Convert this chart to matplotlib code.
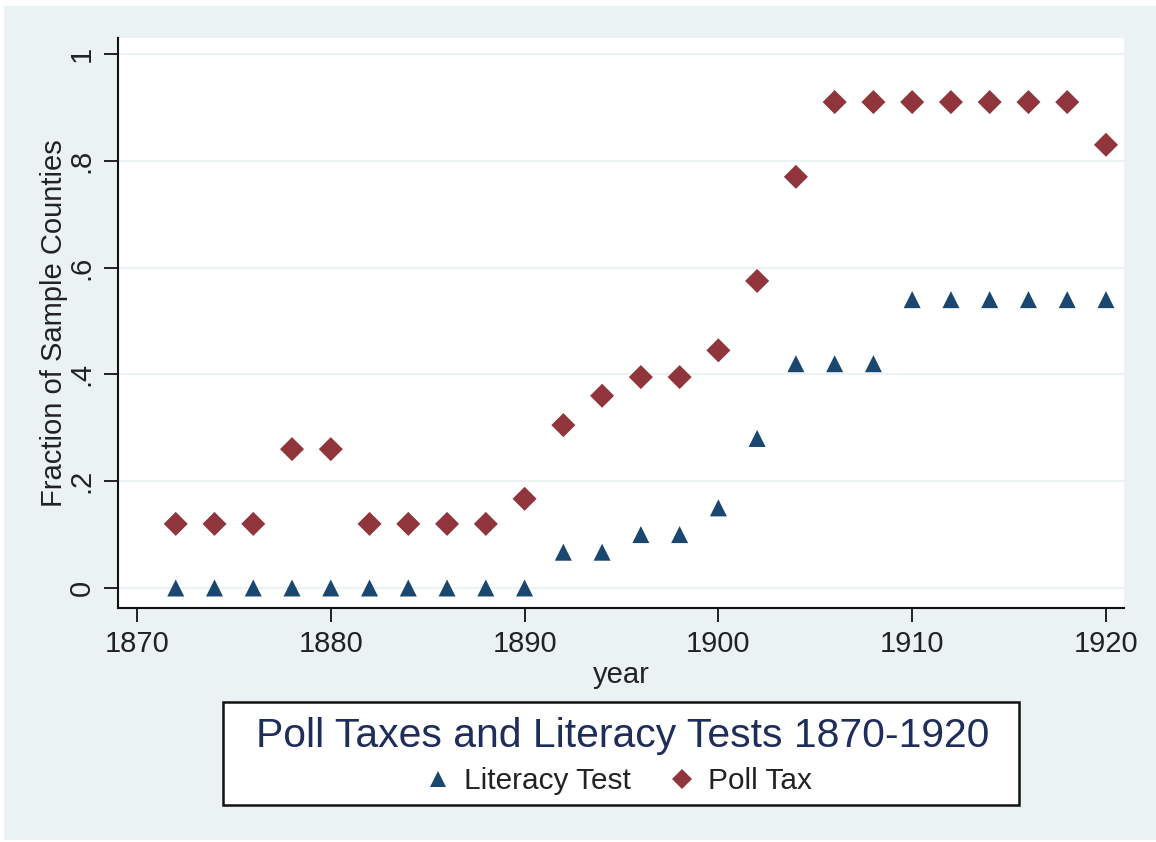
import matplotlib
matplotlib.use("Agg")
import matplotlib.pyplot as plt
from matplotlib.patches import Rectangle
from matplotlib.lines import Line2D

plt.rcParams['font.family'] = ['Liberation Sans', 'DejaVu Sans']

# data
years = [1872, 1874, 1876, 1878, 1880, 1882, 1884, 1886, 1888, 1890,
         1892, 1894, 1896, 1898, 1900, 1902, 1904, 1906, 1908, 1910,
         1912, 1914, 1916, 1918, 1920]
literacy_test = [0, 0, 0, 0, 0, 0, 0, 0, 0, 0,
                 0.067, 0.067, 0.1, 0.1, 0.15, 0.28, 0.42, 0.42, 0.42, 0.54,
                 0.54, 0.54, 0.54, 0.54, 0.54]
poll_tax = [0.12, 0.12, 0.12, 0.26, 0.26, 0.12, 0.12, 0.12, 0.12, 0.167,
            0.305, 0.36, 0.395, 0.395, 0.445, 0.575, 0.77, 0.91, 0.91, 0.91,
            0.91, 0.91, 0.91, 0.91, 0.83]
xticks = [1870, 1880, 1890, 1900, 1910, 1920]
yticks = [0, 0.2, 0.4, 0.6, 0.8, 1.0]
ytick_labels = ['0', '.2', '.4', '.6', '.8', '1']

W, H = 1156, 842
bg = '#EAF2F3'
navy = '#1A476F'
maroon = '#90353B'
txt = '#222222'

fig = plt.figure(figsize=(W / 100, H / 100), dpi=100, facecolor='white')
# outer light background panel
fig.patches.append(Rectangle((4 / W, 2 / H), (W - 4) / W, (H - 8) / H,
                             transform=fig.transFigure, facecolor=bg,
                             edgecolor='none', zorder=-5))

ax = fig.add_axes([118 / W, (H - 608) / H, (1124 - 118) / W, (608 - 38) / H])
ax.set_zorder(1)
ax.set_facecolor('white')

ax.scatter(years, literacy_test, marker='^', s=150, color=navy,
           edgecolors='none', zorder=3, label='Literacy Test')
ax.scatter(years, poll_tax, marker='D', s=150, color=maroon,
           edgecolors='none', zorder=3, label='Poll Tax')

ax.set_xlim(1869.02, 1920.93)
ax.set_ylim(-0.0375, 1.030)
ax.set_xticks(xticks)
ax.set_yticks(yticks)
ax.set_yticklabels(ytick_labels, rotation=90, va='center')
ax.grid(axis='y', color=bg, linewidth=1.5, zorder=1)
ax.set_axisbelow(True)

for s in ['top', 'right']:
    ax.spines[s].set_visible(False)
for s in ['left', 'bottom']:
    ax.spines[s].set_color('#111111')
    ax.spines[s].set_linewidth(1.5)
ax.tick_params(axis='both', direction='out', length=10, width=1.3,
               color='#111111', labelsize=21, labelcolor=txt, pad=6)

ax.set_xlabel('year', fontsize=21, color=txt, labelpad=2)
ax.set_ylabel('Fraction of Sample Counties', fontsize=21, color=txt,
              labelpad=0)

# legend box
fig.patches.append(Rectangle((223 / W, (H - 805) / H), (1019 - 223) / W,
                             (805 - 702) / H, transform=fig.transFigure,
                             facecolor='white', edgecolor='#111111',
                             linewidth=1.8, zorder=1))
fig.text(623 / W, (H - 747) / H, 'Poll Taxes and Literacy Tests 1870-1920',
         fontsize=29.4, color='#1F2D5C', ha='center', va='baseline', zorder=2)

handles = [Line2D([], [], marker='^', linestyle='none', color=navy,
                  markersize=11, markeredgewidth=0),
           Line2D([], [], marker='D', linestyle='none', color=maroon,
                  markersize=10, markeredgewidth=0)]
leg = fig.legend(handles, ['Literacy Test', 'Poll Tax'], ncol=2,
                 loc='center', bbox_to_anchor=(619 / W, (H - 781) / H),
                 frameon=False, fontsize=21.4, handlelength=0.8,
                 handletextpad=0.45, columnspacing=1.35, borderpad=0)
leg.set_zorder(3)
for t in leg.get_texts():
    t.set_color(txt)

fig.savefig('out.png', dpi=100, facecolor=fig.get_facecolor())
